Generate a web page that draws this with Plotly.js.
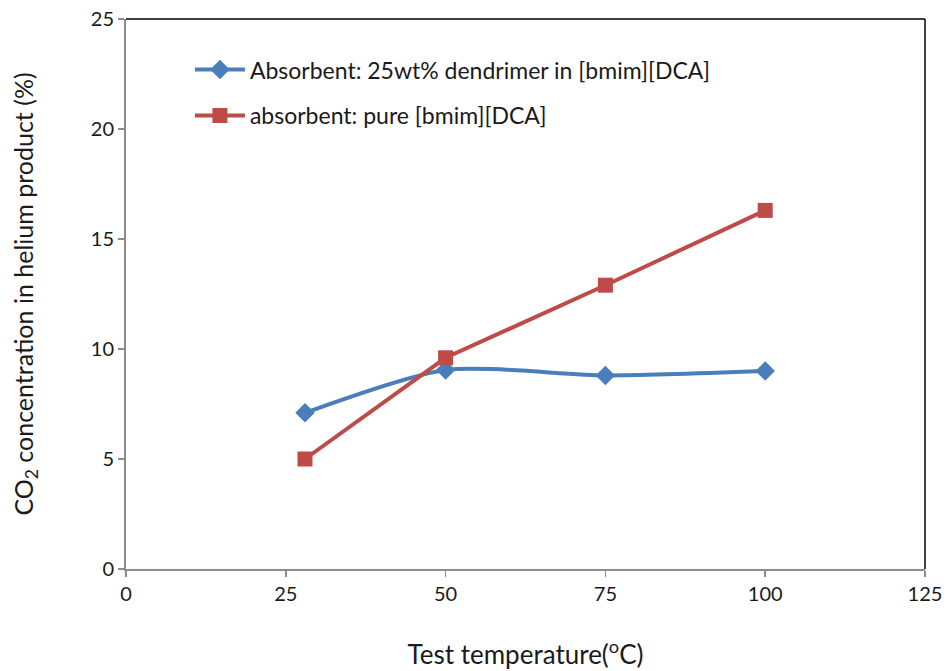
<!DOCTYPE html>
<html>
<head>
<meta charset="utf-8">
<script src="https://cdn.plot.ly/plotly-3.0.1.min.js"></script>
<style>html,body{margin:0;padding:0;background:#fff;}#chart{width:947px;height:671px;}</style>
</head>
<body>
<div id="chart"></div>
<script>
const temperatures = [28, 50, 75, 100];
const dendrimerCO2 = [7.1, 9.05, 8.8, 9.0];
const pureCO2 = [5.0, 9.6, 12.9, 16.3];
const seriesNames = ["Absorbent: 25wt% dendrimer in [bmim][DCA]", "absorbent: pure [bmim][DCA]"];
const xTicks = [0, 25, 50, 75, 100, 125];
const yTicks = [0, 5, 10, 15, 20, 25];

const font = "Lato, Open Sans, sans-serif";

const traces = [
  {
    x: temperatures, y: dendrimerCO2, name: seriesNames[0], type: "scatter", mode: "lines+markers",
    line: {color: "#4a7ebb", width: 4, shape: "spline", smoothing: 0.7},
    marker: {symbol: "diamond", size: 15, color: "#4a7ebb"},
    legendgroup: "a"
  },
  {
    x: temperatures, y: pureCO2, name: seriesNames[1], type: "scatter", mode: "lines+markers",
    line: {color: "#be4b48", width: 4},
    marker: {symbol: "square", size: 15, color: "#be4b48"},
    legendgroup: "b"
  }
];

const layout = {
  width: 947, height: 671,
  margin: {l: 126, r: 22, t: 19, b: 102},
  paper_bgcolor: "#fff", plot_bgcolor: "#fff",
  font: {family: font, size: 20, color: "#1a1a1a"},
  showlegend: true,
  legend: {x: 0.08, y: 0.947, xanchor: "left", yanchor: "top", bgcolor: "rgba(0,0,0,0)",
    font: {family: font, size: 23, color: "#1a1a1a"}, tracegroupgap: 13, traceorder: "grouped", itemwidth: 50},
  xaxis: {
    range: [0, 125], tickvals: xTicks, ticktext: xTicks.map(String),
    showgrid: false, zeroline: false, showline: true, linecolor: "#8c8c8c", linewidth: 2,
    ticks: "outside", ticklen: 6, tickcolor: "#8c8c8c", tickwidth: 1.5,
    tickfont: {family: font, size: 20, color: "#1a1a1a"},
    title: {text: "Test temperature(<sup>o</sup>C)", font: {family: font, size: 26, color: "#1a1a1a"}, standoff: 42}
  },
  yaxis: {
    range: [0, 25], tickvals: yTicks, ticktext: yTicks.map(String),
    showgrid: false, zeroline: false, showline: true, linecolor: "#8c8c8c", linewidth: 2,
    ticks: "outside", ticklen: 6, tickcolor: "#8c8c8c", tickwidth: 1.5,
    tickfont: {family: font, size: 20, color: "#1a1a1a"},
    title: {text: "CO<sub>2</sub> concentration in helium product (%)", font: {family: font, size: 25, color: "#1a1a1a"}, standoff: 50}
  },
  shapes: [
    {type: "line", xref: "paper", yref: "paper", x0: 0, x1: 1, y0: 1, y1: 1, line: {color: "#000", width: 1.5}},
    {type: "line", xref: "paper", yref: "paper", x0: 1, x1: 1, y0: 0, y1: 1, line: {color: "#000", width: 1.5}}
  ]
};

Plotly.newPlot("chart", traces, layout, {displayModeBar: false, staticPlot: true});
</script>
</body>
</html>
